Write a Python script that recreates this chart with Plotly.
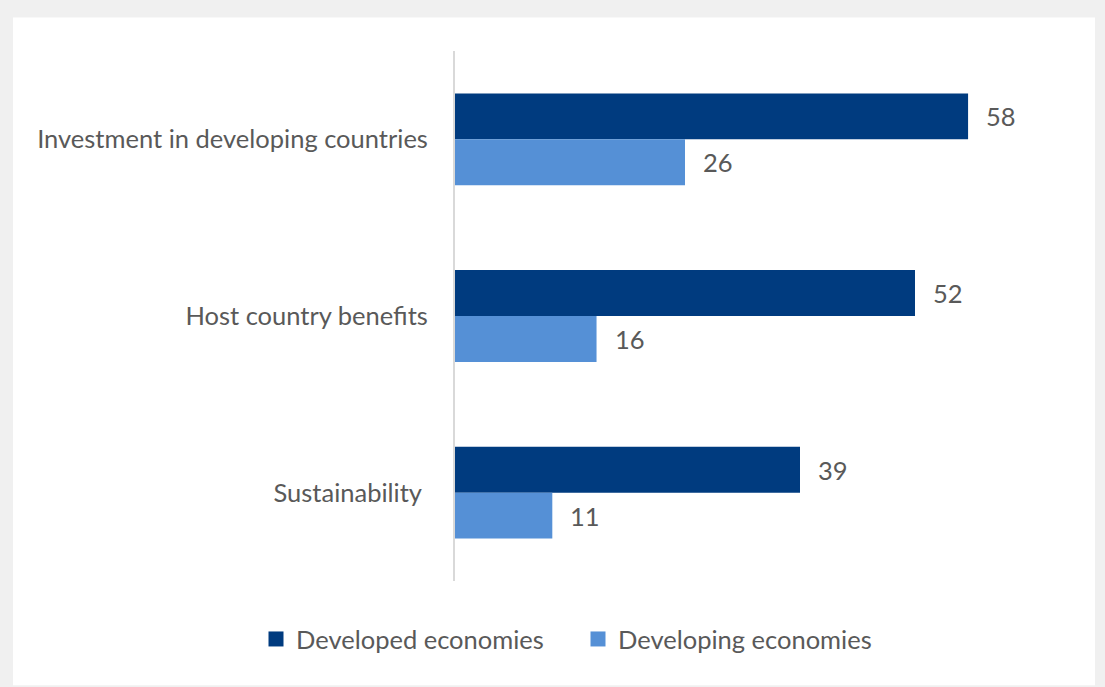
import plotly.graph_objects as go

# Survey categories (top to bottom) and shares per economy group
categories = ["Investment in developing countries", "Host country benefits", "Sustainability "]
developed = [58, 52, 39]
developing = [26, 16, 11]
series_names = ["Developed economies", "Developing economies"]

DARK = "#003b7f"
LIGHT = "#5590d6"
TEXT = "#595959"
FONT = "Lato"
FS = 25.5

W, H = 1105, 687
# plot area in pixels
L, R, T, B = 455, 1030, 50.5, 581.5
XMAX = 65

fig = go.Figure()
fig.add_trace(go.Bar(y=categories, x=developed, name=series_names[0], orientation="h",
                     marker=dict(color=DARK, line=dict(width=0)), showlegend=False))
fig.add_trace(go.Bar(y=categories, x=developing, name=series_names[1], orientation="h",
                     marker=dict(color=LIGHT, line=dict(width=0)), showlegend=False))

# legend entries with square swatches
for name, col in zip(series_names, (DARK, LIGHT)):
    fig.add_trace(go.Scatter(x=[None], y=[None], mode="markers", name=name,
                             marker=dict(symbol="square", size=15, color=col)))

# value labels to the right of each bar
n = len(categories)
for i, cat in enumerate(categories):
    for vals, off in ((developed, -0.13), (developing, 0.13)):
        fig.add_annotation(x=vals[i], y=i + off, xref="x", yref="y", text=str(vals[i]),
                           showarrow=False, xanchor="left", xshift=16,
                           font=dict(family=FONT, size=FS, color=TEXT))

def px_x(p):
    return (p - L) / (R - L)

def px_y(p):
    return (B - p) / (B - T)

# white card on grey page
fig.add_shape(type="rect", xref="paper", yref="paper", layer="below",
              x0=px_x(13), x1=px_x(1095), y0=px_y(686), y1=px_y(17),
              fillcolor="white", line=dict(width=0))

fig.update_layout(
    width=W, height=H,
    margin=dict(l=L, r=W - R, t=T, b=H - B, pad=0),
    paper_bgcolor="#f0f0f0", plot_bgcolor="rgba(0,0,0,0)",
    barmode="group", bargap=0.48, bargroupgap=0,
    font=dict(family=FONT, size=FS, color=TEXT),
    showlegend=True,
    legend=dict(orientation="h", x=px_x(256), xanchor="left", y=px_y(640), yanchor="middle",
                font=dict(family=FONT, size=FS, color=TEXT), bgcolor="rgba(0,0,0,0)",
                traceorder="normal", entrywidth=277, entrywidthmode="pixels",
                itemwidth=30),
    xaxis=dict(range=[0, XMAX], visible=False, showgrid=False, zeroline=False),
    yaxis=dict(autorange=False, range=[n - 0.5, -0.5], showgrid=False, zeroline=False,
               showline=True, linecolor="#d9d9d9", linewidth=2, ticks="", ticklabelstandoff=20,
               tickfont=dict(family=FONT, size=FS, color=TEXT)),
)

fig.write_html("out.html")
